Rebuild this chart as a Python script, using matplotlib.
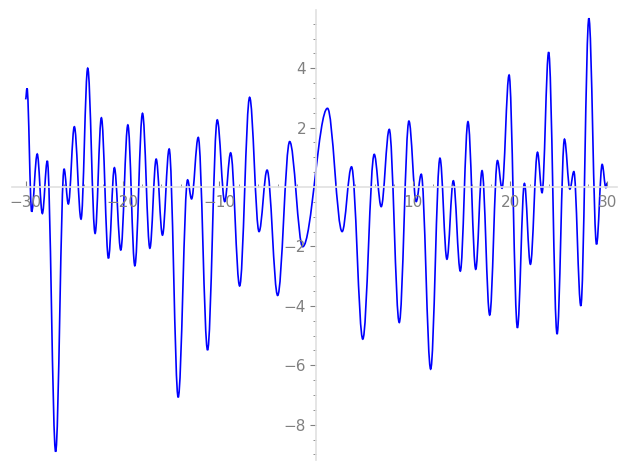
import numpy as np
import matplotlib
matplotlib.use('Agg')
import matplotlib.pyplot as plt
from matplotlib.path import Path
from matplotlib.patches import PathPatch
from matplotlib.ticker import MultipleLocator, FixedLocator

# extrema of the curve (x, y)
xs = [-30.0, -29.85, -29.37, -28.8, -28.27, -27.76, -26.9, -26.03, -25.59, -24.97,
      -24.28, -23.59, -22.83, -22.18, -21.45, -20.84, -20.18, -19.45, -18.73, -17.94,
      -17.18, -16.53, -15.88, -15.19, -14.26, -13.29, -12.88, -12.19, -11.23, -10.23,
      -9.46, -8.85, -7.92, -6.89, -5.92, -5.09, -4.0, -2.76, -1.42, 1.14,
      2.65, 3.62, 4.78, 5.96, 6.68, 7.51, 8.54, 9.54, 10.29, 10.81,
      11.78, 12.74, 13.46, 14.12, 14.84, 15.63, 16.43, 17.08, 17.87, 18.67,
      19.14, 19.87, 20.73, 21.45, 22.07, 22.8, 23.27, 23.95, 24.82, 25.58,
      26.14, 26.55, 27.27, 28.1, 28.89, 29.47, 29.85, 30.0]
ys = [2.95, 3.32, -0.83, 1.11, -0.89, 0.88, -8.91, 0.61, -0.57, 2.03,
      -1.08, 4.0, -1.56, 2.33, -2.4, 0.65, -2.12, 2.09, -2.65, 2.48,
      -2.06, 0.94, -1.62, 1.28, -7.08, 0.24, -0.4, 1.67, -5.49, 2.26,
      -0.49, 1.15, -3.33, 3.02, -1.5, 0.57, -3.65, 1.53, -2.01, 2.65,
      -1.5, 0.68, -5.12, 1.1, -0.66, 1.94, -4.56, 2.22, -0.49, 0.43,
      -6.13, 0.97, -2.43, 0.21, -2.83, 2.2, -2.77, 0.55, -4.31, 0.89,
      -0.04, 3.77, -4.74, 0.12, -2.6, 1.17, -0.19, 4.54, -4.95, 1.61,
      -0.07, 0.52, -4.0, 5.68, -1.93, 0.76, -0.02, 0.14]

x_major = [-30, -20, -10, 10, 20, 30]
y_major = [-8, -6, -4, -2, 2, 4]

fig = plt.figure(figsize=(6.27, 4.70), dpi=100)
ax = fig.add_axes([12 / 627, 10 / 470, 605 / 627, 450 / 470])

# smooth path through the extrema, flat tangent at each one
k = 0.36
verts = [(xs[0], ys[0])]
codes = [Path.MOVETO]
for i in range(len(xs) - 1):
    dx = xs[i + 1] - xs[i]
    verts += [(xs[i] + k * dx, ys[i]), (xs[i + 1] - k * dx, ys[i + 1]), (xs[i + 1], ys[i + 1])]
    codes += [Path.CURVE4] * 3
ax.add_patch(PathPatch(Path(verts, codes), facecolor='none', edgecolor='blue', lw=1.2))

ax.set_xlim(-31.4, 31.0)
ax.set_ylim(-9.19, 5.96)

for s in ['top', 'right']:
    ax.spines[s].set_visible(False)
ax.spines['left'].set_position(('data', 0))
ax.spines['bottom'].set_position(('data', 0))
for s in ['left', 'bottom']:
    ax.spines[s].set_color('#e0e0e0')
    ax.spines[s].set_linewidth(1.2)

ax.xaxis.set_major_locator(FixedLocator(x_major))
ax.yaxis.set_major_locator(FixedLocator(y_major))
ax.xaxis.set_minor_locator(MultipleLocator(2))
ax.yaxis.set_minor_locator(MultipleLocator(0.5))
ax.set_xticklabels([f'\u2212{abs(v)}' if v < 0 else str(v) for v in x_major])
ax.set_yticklabels([f'\u2212{abs(v)}' if v < 0 else str(v) for v in y_major])

ax.tick_params(axis='x', which='both', direction='in', colors='#808080', labelsize=11, pad=6)
ax.tick_params(axis='y', which='both', direction='out', colors='#808080', labelsize=11)
ax.tick_params(which='major', length=4, width=0.8)
ax.tick_params(which='minor', length=2.5, width=0.6)
for lab in ax.get_xticklabels() + ax.get_yticklabels():
    lab.set_color('#808080')

fig.savefig('out.png', dpi=100)
